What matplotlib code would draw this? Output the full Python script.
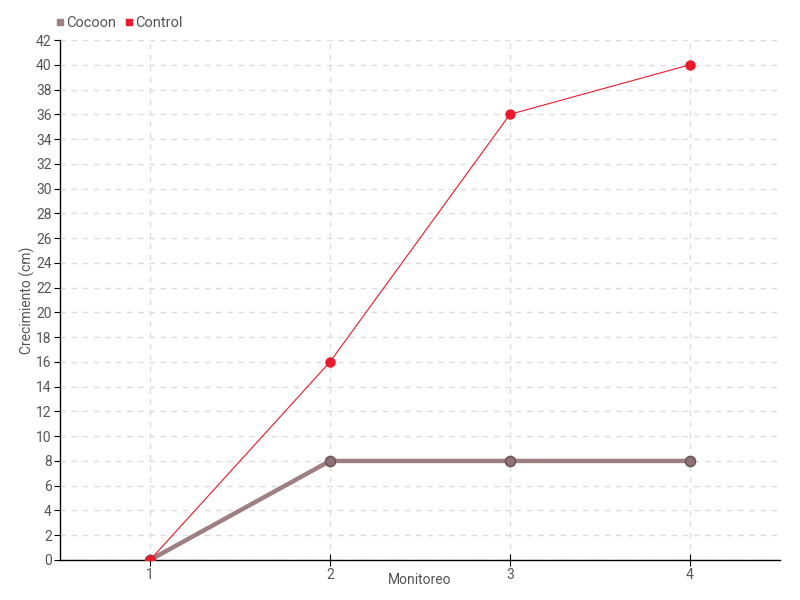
import matplotlib
matplotlib.use('Agg')
import matplotlib.pyplot as plt
from matplotlib.lines import Line2D

plt.rcParams['font.family'] = ['Roboto', 'DejaVu Sans']

# data
monitoreo = [1, 2, 3, 4]
cocoon = [0, 8, 8, 8]
control = [0, 16, 36, 40]
yticks = list(range(0, 43, 2))

text_color = '#555555'
cocoon_color = '#9e8082'
control_color = '#e8192c'

fig = plt.figure(figsize=(8, 6), dpi=100)
ax = fig.add_axes([0.075, 0.0667, 0.9, 0.8666])

ax.plot(monitoreo, cocoon, color=cocoon_color, lw=3.2, marker='o', ms=7.2,
        markerfacecolor='#8f7275', markeredgecolor='#6e5658', markeredgewidth=1.2,
        solid_capstyle='butt', zorder=3)
ax.plot(monitoreo, control, color=control_color, lw=0.8, marker='o', ms=6.5,
        markerfacecolor=control_color, markeredgecolor=control_color, zorder=4)

ax.set_xlim(0.5, 4.5)
ax.set_ylim(0, 42)
ax.set_xticks(monitoreo)
ax.set_yticks(yticks)
ax.grid(True, color='#dddddd', linestyle=(0, (4, 4)), lw=1)
ax.set_axisbelow(True)

for s in ['top', 'right']:
    ax.spines[s].set_visible(False)
for s in ['left', 'bottom']:
    ax.spines[s].set_color('black')
    ax.spines[s].set_linewidth(1)

ax.tick_params(axis='y', direction='out', length=4, color='black',
               labelsize=10, labelcolor=text_color, pad=2)
ax.tick_params(axis='x', direction='inout', length=8, color='black',
               labelsize=10, labelcolor=text_color, pad=2)

ax.set_xlabel('Monitoreo', fontsize=10, color=text_color)
ax.set_ylabel('Crecimiento (cm)', fontsize=10, color=text_color)
ax.xaxis.set_label_coords(0.5, -0.026)
ax.yaxis.set_label_coords(-0.035, 0.5)

handles = [Line2D([], [], marker='s', ls='', color=cocoon_color, ms=4.5, label='Cocoon'),
           Line2D([], [], marker='s', ls='', color=control_color, ms=4.5, label='Control')]
fig.legend(handles=handles, loc='upper left', bbox_to_anchor=(0.052, 0.995), ncol=2,
           frameon=False, fontsize=10.5, labelcolor=text_color, handletextpad=0.1,
           columnspacing=0.5, handlelength=0.7)

fig.savefig('out.png', dpi=100)
